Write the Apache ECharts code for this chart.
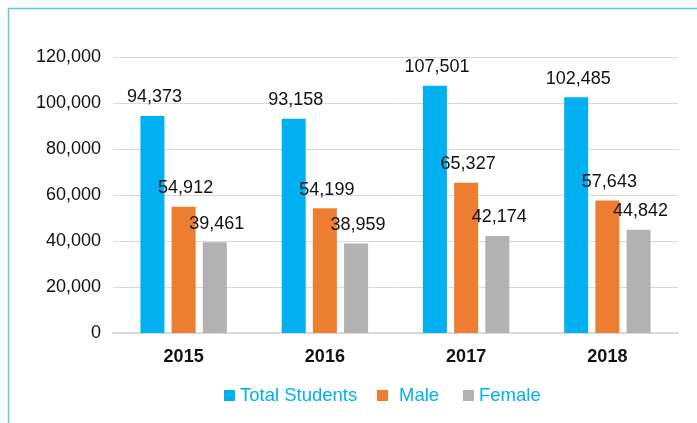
<!DOCTYPE html>
<html><head><meta charset="utf-8">
<script src="https://cdn.jsdelivr.net/npm/echarts@6/dist/echarts.min.js"></script>
<style>html,body{margin:0;padding:0;background:#fff}#c{width:697px;height:423px}</style>
</head><body><div id="c"></div>
<script>
const categories = ['2015', '2016', '2017', '2018'];
const totalStudents = [94373, 93158, 107501, 102485];
const male = [54912, 54199, 65327, 57643];
const female = [39461, 38959, 42174, 44842];
const seriesNames = ['Total Students', 'Male', 'Female'];
const colors = ['#00B0F0', '#ED7D31', '#B2B2B2'];

const chart = echarts.init(document.getElementById('c'));
const fmt = v => v.toLocaleString('en-US');
const font = '"Liberation Sans", Arial, sans-serif';
const mk = (name, data, color) => ({
  name, type: 'bar', data, barWidth: 24, barGap: '30%',
  itemStyle: { color },
  label: { show: true, position: 'top', distance: 9.5, offset: [2, 0], color: '#111', fontSize: 18, fontFamily: font,
    formatter: p => fmt(p.value) }
});
const lg = (name, left, pad) => ({
  data: [name], left, top: 386, itemWidth: 11, itemHeight: 11, icon: 'rect', padding: 0,
  textStyle: { color: '#00B0F0', fontSize: 18.5, fontFamily: font, padding: [0, 0, 0, pad] }
});
chart.setOption({
  animation: false,
  color: colors,
  graphic: [{ type: 'rect', shape: { x: 8.5, y: 8.5, width: 800, height: 600 },
    style: { fill: 'none', stroke: '#5BC6F0', lineWidth: 1.5 } }],
  grid: { left: 113, right: 19, top: 57, bottom: 90 },
  legend: [lg(seriesNames[0], 224, 0), lg(seriesNames[1], 377, 6), lg(seriesNames[2], 463, 0)],
  xAxis: { type: 'category', data: categories,
    axisLine: { lineStyle: { color: '#D9D9D9', width: 2 } }, axisTick: { show: false },
    axisLabel: { color: '#111', fontWeight: 'bold', fontSize: 18, fontFamily: font, margin: 15 } },
  yAxis: { type: 'value', min: 0, max: 120000, interval: 20000,
    axisLine: { show: false }, axisTick: { show: false },
    splitLine: { lineStyle: { color: '#D9D9D9' } },
    axisLabel: { color: '#111', fontSize: 18, fontFamily: font, margin: 12, formatter: v => fmt(v) } },
  series: [mk(seriesNames[0], totalStudents, colors[0]), mk(seriesNames[1], male, colors[1]), mk(seriesNames[2], female, colors[2])]
});
</script></body></html>
